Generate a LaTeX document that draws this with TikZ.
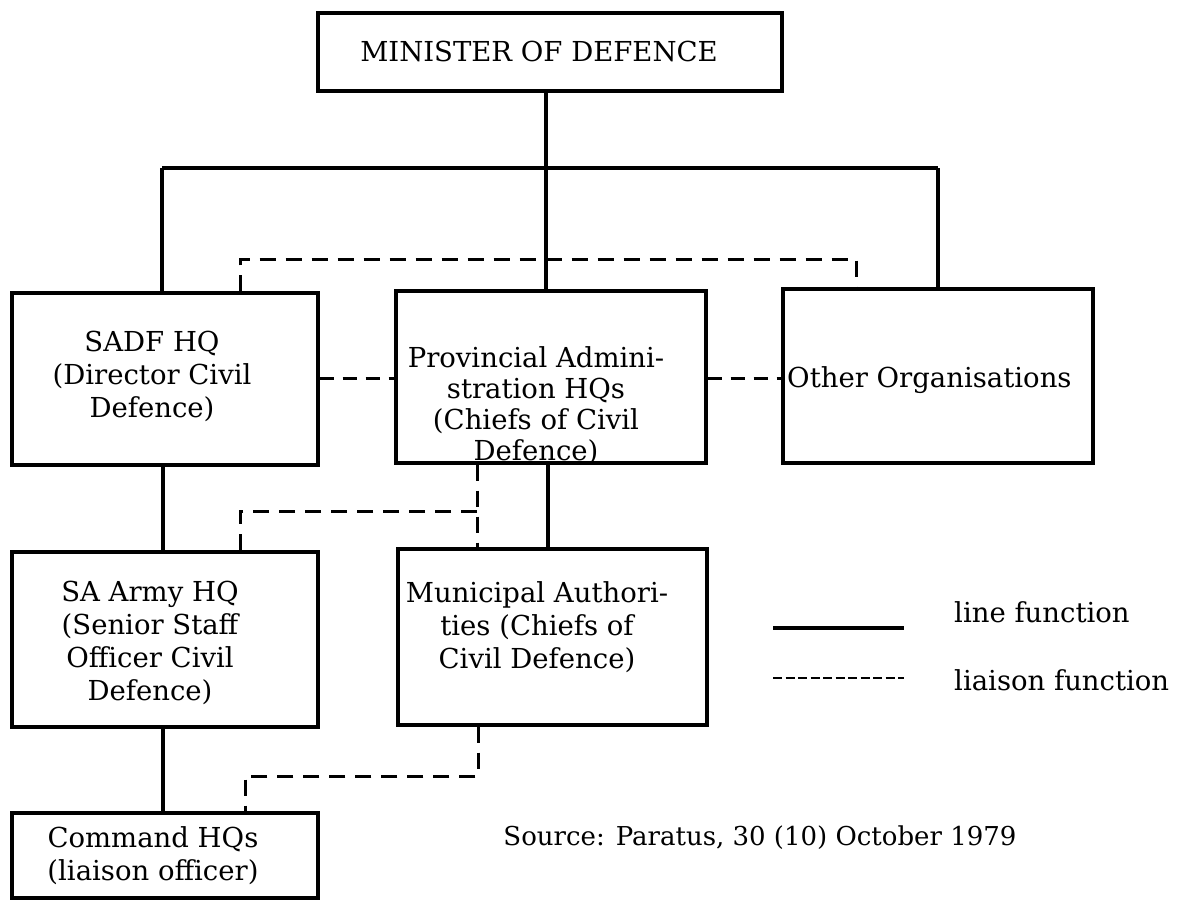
\documentclass[tikz,border=0pt]{standalone}
\usepackage{fontspec}
\setmainfont{DejaVu Serif}
\begin{document}
\begin{tikzpicture}[x=1pt,y=-1pt,
  box/.style={draw=black, line width=3.1pt, inner sep=0pt, fill=none},
  txt/.style={inner sep=0pt, align=center, font=\fontsize{27.5}{33}\selectfont},
  solidln/.style={draw=black, line width=3.1pt},
  dashln/.style={draw=black, line width=3pt, dash pattern=on 16pt off 10pt},
  legdash/.style={draw=black, line width=2.8pt, dash pattern=on 9pt off 3.5pt}]
\useasboundingbox (0,0) rectangle (1177,900);
% boxes
\node[box, minimum width=464, minimum height=78] (min) at (550,52) {};
\node[box, minimum width=306, minimum height=172] (sadf) at (165,379) {};
\node[box, minimum width=310, minimum height=172] (prov) at (551,377) {};
\node[box, minimum width=310, minimum height=174] (other) at (938,376) {};
\node[box, minimum width=306, minimum height=175] (army) at (165,639.5) {};
\node[box, minimum width=309, minimum height=176] (muni) at (552.5,637) {};
\node[box, minimum width=306, minimum height=85] (cmd) at (165,855.5) {};
% texts
\node[txt] (minT) at (539,51) {MINISTER OF DEFENCE};
\node[txt] (sadfT) at (152,376) {SADF HQ\\(Director Civil\\Defence)};
\node[txt, font=\fontsize{27.5}{31}\selectfont] (provT) at (536,406) {Provincial Admini-\\stration HQs\\(Chiefs of Civil\\Defence)};
\node[txt, anchor=west] (otherT) at (787,380) {Other Organisations};
\node[txt] (armyT) at (150,643) {SA Army HQ\\(Senior Staff\\Officer Civil\\Defence)};
\node[txt] (muniT) at (537,627) {Municipal Authori-\\ties (Chiefs of\\Civil Defence)};
\node[txt] (cmdT) at (153,856) {Command HQs\\(liaison officer)};
\node[txt, anchor=west] (lineT) at (954,612) {line function};
\node[txt, anchor=west] (liaisT) at (954,680) {liaison function};
\node[txt, font=\fontsize{26}{31}\selectfont] (srcT) at (760,838) {Source: Paratus, 30 (10) October 1979};
% coordinates
\coordinate (busC) at (546,168);
\coordinate (busL) at (162,168);
\coordinate (busR) at (938,168);
\coordinate (dL) at (240,259);
\coordinate (dR) at (856,259);
\coordinate (hy) at (0,378);
\coordinate (dP) at (477,511);
\coordinate (dA) at (240,511);
\coordinate (sPM) at (548,500);
\coordinate (sL) at (163,500);
\coordinate (dM) at (478,776);
\coordinate (dC) at (245,776);
\coordinate (l1a) at (773,628);
\coordinate (l1b) at (904,628);
\coordinate (l2a) at (773,678);
\coordinate (l2b) at (904,678);
% solid line functions
\draw[solidln] (min.south -| busC) -- (busC);
\draw[solidln] (busL) -- (busR);
\draw[solidln] (busL) -- (busL |- sadf.north);
\draw[solidln] (busC) -- (busC |- prov.north);
\draw[solidln] (busR) -- (busR |- other.north);
\draw[solidln] (prov.south -| sPM) -- (muni.north -| sPM);
\draw[solidln] (sadf.south -| sL) -- (army.north -| sL);
\draw[solidln] (army.south -| sL) -- (cmd.north -| sL);
% dashed liaison functions
\draw[dashln] (dL |- sadf.north) -- (dL) -- (dR) -- (dR |- other.north);
\draw[dashln, dash pattern=on 14pt off 9pt] (sadf.east |- hy) -- (prov.west |- hy);
\draw[dashln, dash pattern=on 14pt off 9pt] (prov.east |- hy) -- (other.west |- hy);
\draw[dashln] (prov.south -| dP) -- (muni.north -| dP);
\draw[dashln] (dP) -- (dA) -- (dA |- army.north);
\draw[dashln] (muni.south -| dM) -- (dM) -- (dC) -- (dC |- cmd.north);
% legend
\draw[solidln] (l1a) -- (l1b);
\draw[legdash] (l2a) -- (l2b);
\end{tikzpicture}
\end{document}
